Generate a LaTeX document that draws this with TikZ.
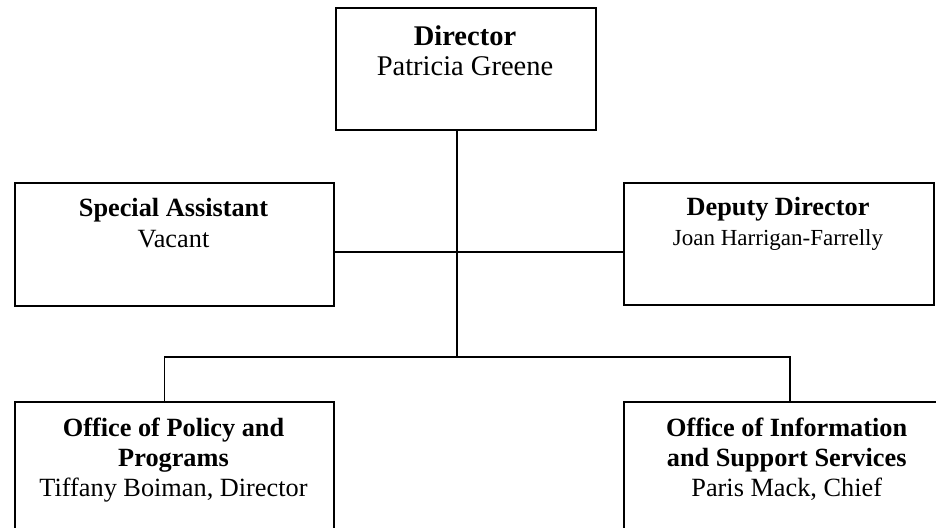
\documentclass[tikz,border=0pt]{standalone}
\usepackage{fontspec}
\setmainfont{Liberation Serif}
\begin{document}
\begin{tikzpicture}[x=1pt,y=-1pt,
  box/.style={draw=black,line width=2pt,rectangle,anchor=north west,inner sep=0pt},
  link/.style={draw=black,line width=1.6pt},
  bigtxt/.style={anchor=base,inner sep=0pt,font=\fontsize{28.5}{30}\selectfont},
  txt/.style={anchor=base,inner sep=0pt,font=\fontsize{26.3}{30}\selectfont},
  smalltxt/.style={anchor=base,inner sep=0pt,font=\fontsize{23}{28}\selectfont}]
\useasboundingbox (0,0) rectangle (936,527);
\clip (0,0) rectangle (936,527);
\fill[white] (0,0) rectangle (936,527);

% boxes
\node[box,minimum width=260pt,minimum height=122.3pt] (dir) at (335,6.7) {};
\node[box,minimum width=319pt,minimum height=123pt] (sa) at (14,182) {};
\node[box,minimum width=310pt,minimum height=122pt] (dd) at (623,182) {};
\node[box,minimum width=319pt,minimum height=160pt] (opp) at (14,401) {};
\node[box,minimum width=327pt,minimum height=160pt] (ois) at (623,401) {};

% texts
\node[bigtxt] (dirA) at (465,45.7) {\textbf{Director}};
\node[bigtxt] (dirB) at (465,75) {Patricia Greene};
\node[txt] (saA) at (173.5,216.7) {\textbf{Special Assistant}};
\node[txt] (saB) at (173.5,247) {Vacant};
\node[txt] (ddA) at (778,215.7) {\textbf{Deputy Director}};
\node[smalltxt] (ddB) at (778,245) {Joan Harrigan-Farrelly};
\node[txt] (oppA) at (173.5,436.7) {\textbf{Office of Policy and}};
\node[txt] (oppB) at (173.5,466.7) {\textbf{Programs}};
\node[txt] (oppC) at (173.5,496.7) {Tiffany Boiman, Director};
\node[txt] (oisA) at (786.7,436.7) {\textbf{Office of Information}};
\node[txt] (oisB) at (786.7,466.7) {\textbf{and Support Services}};
\node[txt] (oisC) at (786.7,496.7) {Paris Mack, Chief};

% connectors
\coordinate (hub) at (456.7,357);
\coordinate (mid) at (456.7,251.7);
\coordinate (lft) at (164.3,357);
\coordinate (rgt) at (790,357);
\draw[link] (hub |- dir.south) -- (hub);
\draw[link] (sa.east |- mid) -- (dd.west |- mid);
\draw[link] (lft |- opp.north) -- (lft) -- (rgt) -- (rgt |- ois.north);
\end{tikzpicture}
\end{document}
